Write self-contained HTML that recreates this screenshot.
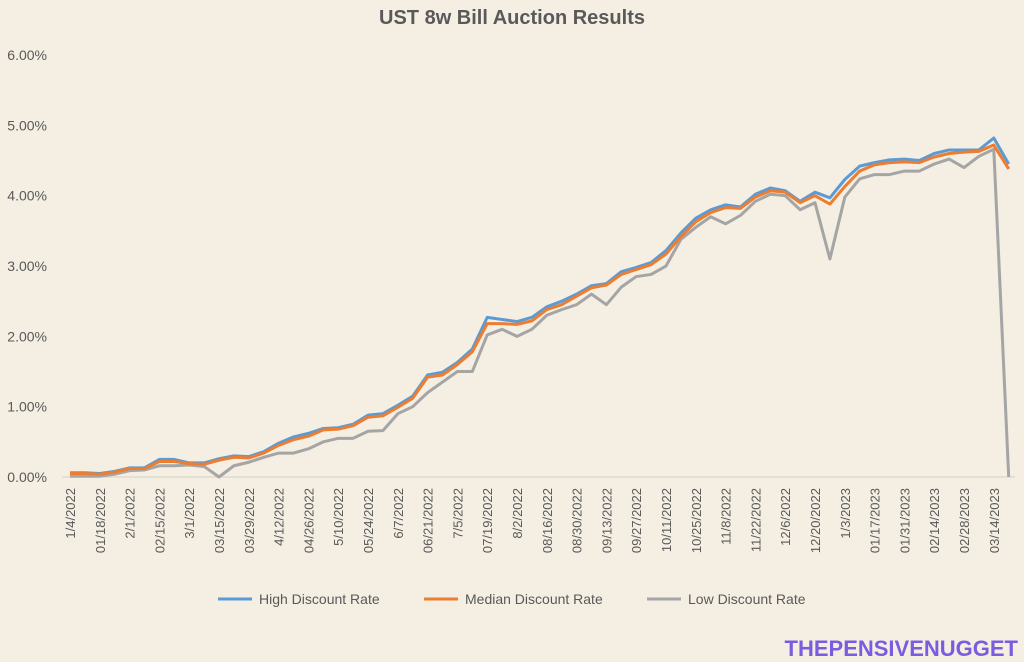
<!DOCTYPE html>
<html><head><meta charset="utf-8"><style>
body{margin:0;background:#f4efe2;}
svg{display:block;font-family:"Liberation Sans",sans-serif;}
</style></head><body>
<svg id="chart" width="1024" height="662">
<rect width="1024" height="662" fill="#f4efe2"/>
<text x="512" y="24" text-anchor="middle" font-size="20" font-weight="bold" fill="#595959">UST 8w Bill Auction Results</text>
<g id="yaxis"></g><g id="xaxis"></g><g id="series"></g>
<g>
<g><line x1="218" y1="599" x2="252" y2="599" stroke="#5b9bd5" stroke-width="3"/><text x="259" y="604" font-size="14" fill="#595959">High Discount Rate</text></g>
<g><line x1="424" y1="599" x2="458" y2="599" stroke="#ed7d31" stroke-width="3"/><text x="465" y="604" font-size="14" fill="#595959">Median Discount Rate</text></g>
<g><line x1="647" y1="599" x2="681" y2="599" stroke="#a5a5a5" stroke-width="3"/><text x="688" y="604" font-size="14" fill="#595959">Low Discount Rate</text></g>
</g>
<text x="1018" y="656" text-anchor="end" font-size="22" font-weight="bold" fill="#7a5ce0">THEPENSIVENUGGET</text>
</svg>
<script>
const dates=["1/4/2022","1/11","01/18/2022","1/25","2/1/2022","2/8","02/15/2022","2/22","3/1/2022","3/8","03/15/2022","3/22","03/29/2022","4/5","4/12/2022","4/19","04/26/2022","5/3","5/10/2022","5/17","05/24/2022","5/31","6/7/2022","6/14","06/21/2022","6/28","7/5/2022","7/12","07/19/2022","7/26","8/2/2022","8/9","08/16/2022","8/23","08/30/2022","9/6","09/13/2022","9/20","09/27/2022","10/4","10/11/2022","10/18","10/25/2022","11/1","11/8/2022","11/15","11/22/2022","11/29","12/6/2022","12/13","12/20/2022","12/27","1/3/2023","1/10","01/17/2023","1/24","01/31/2023","2/7","02/14/2023","2/21","02/28/2023","3/7","03/14/2023","3/21"];
const highRate=[0.06,0.06,0.05,0.08,0.13,0.13,0.25,0.25,0.20,0.20,0.26,0.30,0.29,0.36,0.48,0.57,0.62,0.69,0.70,0.75,0.88,0.90,1.02,1.15,1.45,1.49,1.63,1.82,2.27,2.24,2.21,2.27,2.42,2.50,2.60,2.72,2.75,2.92,2.98,3.05,3.22,3.47,3.68,3.80,3.87,3.84,4.02,4.11,4.07,3.92,4.05,3.97,4.23,4.42,4.47,4.51,4.52,4.50,4.60,4.65,4.65,4.65,4.82,4.45];
const medianRate=[0.05,0.05,0.04,0.07,0.12,0.12,0.22,0.22,0.19,0.18,0.24,0.28,0.27,0.34,0.45,0.53,0.58,0.67,0.68,0.73,0.85,0.87,0.99,1.12,1.42,1.45,1.60,1.78,2.18,2.18,2.17,2.22,2.38,2.45,2.57,2.69,2.73,2.88,2.95,3.02,3.17,3.42,3.63,3.76,3.83,3.82,3.98,4.07,4.05,3.90,4.00,3.88,4.13,4.35,4.44,4.47,4.48,4.47,4.55,4.60,4.62,4.63,4.72,4.38];
const lowRate=[0.01,0.01,0.01,0.04,0.09,0.10,0.16,0.16,0.17,0.15,0.00,0.16,0.21,0.28,0.34,0.34,0.40,0.50,0.55,0.55,0.65,0.66,0.90,1.00,1.20,1.35,1.50,1.50,2.02,2.10,2.00,2.10,2.30,2.38,2.45,2.60,2.45,2.70,2.85,2.88,3.00,3.38,3.55,3.70,3.60,3.72,3.92,4.02,4.00,3.80,3.90,3.10,3.98,4.24,4.30,4.30,4.35,4.35,4.45,4.52,4.40,4.56,4.66,0.00];
const yTicks=[0,1,2,3,4,5,6];
const NS="http://www.w3.org/2000/svg";
const x=i=>70+i*14.9;
const y=v=>477-v*70.33;
function mk(tag,attrs,parent){const e=document.createElementNS(NS,tag);for(const k in attrs)e.setAttribute(k,attrs[k]);parent.appendChild(e);return e;}
const ya=document.getElementById('yaxis');
yTicks.forEach(t=>{const e=mk('text',{x:47,y:y(t)+5,'text-anchor':'end','font-size':14,fill:'#595959'},ya);


e.textContent=t.toFixed(2)+'%';});
const ax=mk('line',{x1:62,y1:477,x2:1015,y2:477,stroke:'#d6d2c6','stroke-width':1},ya);


const xa=document.getElementById('xaxis');
dates.forEach((d,i)=>{if(i%2)return;const e=mk('text',{transform:`translate(${x(i)+5},488) rotate(-90)`,'text-anchor':'end','font-size':13,fill:'#595959'},xa);


e.textContent=d;});
const sg=document.getElementById('series');
[[lowRate,'#a5a5a5','low-discount-line'],[highRate,'#5b9bd5','high-discount-line'],[medianRate,'#ed7d31','median-discount-line']].forEach(([arr,c,n])=>{
const p=mk('polyline',{points:arr.map((v,i)=>x(i)+','+y(v)).join(' '),fill:'none',stroke:c,'stroke-width':3,'stroke-linejoin':'round'},sg);

});
</script>
</body></html>
